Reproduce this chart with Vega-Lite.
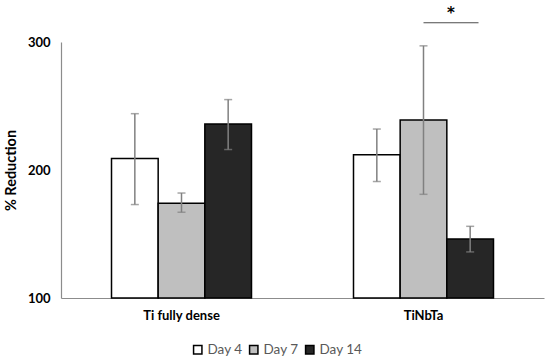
{
  "$schema": "https://vega.github.io/schema/vega-lite/v6.json",
  "autosize": "none",
  "padding": {"left": 61, "top": 42, "right": 6, "bottom": 64},
  "width": 483,
  "height": 256,
  "config": {
    "view": {"stroke": null},
    "font": "Lato",
    "axis": {"domainColor": "#8c8c8c", "domainWidth": 1.2, "ticks": false, "grid": false, "labelFont": "Lato", "titleFont": "Lato"}
  },
  "data": {
    "values": [
      {"group": "Ti fully dense", "day": "Day 4", "value": 209, "lo": 173, "hi": 244},
      {"group": "Ti fully dense", "day": "Day 7", "value": 174, "lo": 167, "hi": 182},
      {"group": "Ti fully dense", "day": "Day 14", "value": 236, "lo": 216, "hi": 255},
      {"group": "TiNbTa", "day": "Day 4", "value": 212, "lo": 191, "hi": 232},
      {"group": "TiNbTa", "day": "Day 7", "value": 239, "lo": 181, "hi": 297},
      {"group": "TiNbTa", "day": "Day 14", "value": 146, "lo": 136, "hi": 156}
    ]
  },
  "encoding": {
    "x": {
      "field": "group", "type": "nominal", "sort": ["Ti fully dense", "TiNbTa"],
      "scale": {"paddingInner": 0.4215, "paddingOuter": 0.2087},
      "axis": {"title": null, "labelAngle": 0, "labelFontWeight": "bold", "labelFontSize": 13, "labelColor": "#000000", "labelPadding": 11}
    }
  },
  "layer": [
    {
      "mark": {"type": "bar", "stroke": "#000000", "strokeWidth": 1.5},
      "encoding": {
        "xOffset": {"field": "day", "type": "nominal", "sort": ["Day 4", "Day 7", "Day 14"], "scale": {"paddingInner": 0, "paddingOuter": 0}},
        "y": {
          "field": "value", "type": "quantitative",
          "scale": {"domain": [100, 300], "zero": false, "nice": false},
          "axis": {"values": [100, 200, 300], "title": "% Reduction", "titleFontSize": 14.5, "titleFontWeight": "bold", "titleColor": "#000000", "labelFontWeight": "bold", "labelFontSize": 13, "labelColor": "#000000", "labelPadding": 11, "titlePadding": 9}
        },
        "y2": {"datum": 100},
        "fill": {
          "field": "day", "type": "nominal",
          "scale": {"domain": ["Day 4", "Day 7", "Day 14"], "range": ["#ffffff", "#bfbfbf", "#262626"]},
          "legend": {
            "title": null, "orient": "none", "direction": "horizontal",
            "legendX": 130, "legendY": 301,
            "symbolType": "square", "symbolSize": 70, "symbolStrokeColor": "#000000", "symbolStrokeWidth": 1.5,
            "labelFontSize": 13.5, "labelColor": "#595959", "labelFont": "Lato", "columnPadding": 3, "labelOffset": 3
          }
        }
      }
    },
    {
      "mark": {"type": "rule", "color": "#808080", "strokeWidth": 1.5},
      "encoding": {
        "xOffset": {"field": "day", "type": "nominal", "sort": ["Day 4", "Day 7", "Day 14"]},
        "y": {"field": "lo", "type": "quantitative"}, "y2": {"field": "hi"}
      }
    },
    {
      "mark": {"type": "tick", "color": "#808080", "size": 8, "thickness": 1.5},
      "encoding": {
        "xOffset": {"field": "day", "type": "nominal", "sort": ["Day 4", "Day 7", "Day 14"]},
        "y": {"field": "lo", "type": "quantitative"}
      }
    },
    {
      "mark": {"type": "tick", "color": "#808080", "size": 8, "thickness": 1.5},
      "encoding": {
        "xOffset": {"field": "day", "type": "nominal", "sort": ["Day 4", "Day 7", "Day 14"]},
        "y": {"field": "hi", "type": "quantitative"}
      }
    },
    {
      "data": {"values": [{"group": "TiNbTa", "sig": 315, "star": 323, "label": "*"}]},
      "mark": {"type": "tick", "color": "#000000", "size": 55, "thickness": 1, "xOffset": 27.5},
      "encoding": {
        "y": {"field": "sig", "type": "quantitative"}
      }
    },
    {
      "data": {"values": [{"group": "TiNbTa", "sig": 315, "star": 323, "label": "*"}]},
      "mark": {"type": "text", "fontWeight": "bold", "fontSize": 15, "color": "#000000", "baseline": "middle", "font": "DejaVu Sans"},
      "encoding": {
        "x": {"field": "group", "type": "nominal", "bandPosition": 0.696},
        "y": {"field": "star", "type": "quantitative"},
        "text": {"field": "label"}
      }
    }
  ]
}
